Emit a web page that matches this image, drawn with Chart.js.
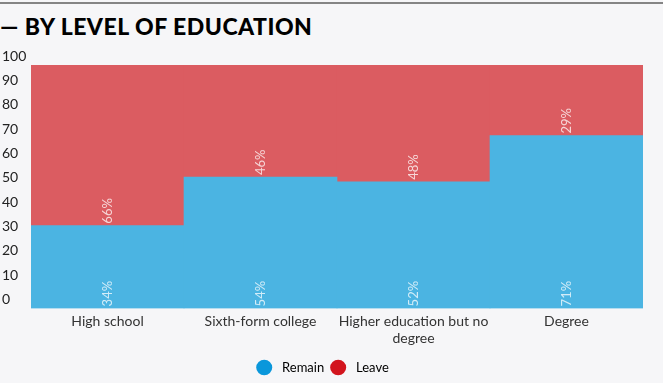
<!DOCTYPE html>
<html>
<head>
<meta charset="utf-8">
<script src="https://cdn.jsdelivr.net/npm/chart.js@4.4.1/dist/chart.umd.min.js"></script>
<style>
  html, body { margin: 0; padding: 0; background: #f6f6f8; width: 663px; height: 383px; overflow: hidden; }
  #rule { position: absolute; left: 0; top: 2px; width: 663px; height: 2px; background: #858585; }
  #title { position: absolute; left: 0; top: 13px; font-family: Lato, "Open Sans", sans-serif; font-weight: 900; font-size: 23px; letter-spacing: 0.5px; line-height: 26px; color: #000; white-space: nowrap; }
  #wrap { position: absolute; left: 0; top: 40px; width: 663px; height: 343px; }
</style>
</head>
<body>
<div id="rule"></div>
<div id="title">— BY LEVEL OF EDUCATION</div>
<div id="wrap"><canvas id="c" width="663" height="343"></canvas></div>
<script>
const categories = ["High school", "Sixth-form college", ["Higher education but no", "degree"], "Degree"];
const remainValues = [34, 54, 52, 71];
const leaveValues = [66, 46, 48, 29];
const remainLabels = ["34%", "54%", "52%", "71%"];
const leaveLabels = ["66%", "46%", "48%", "29%"];
const seriesNames = ["Remain", "Leave"];

const barColors = ["#4bb4e2", "#db5c61"];
const legendColors = ["#0a97db", "#d2141d"];
const FONT = "Lato, 'Open Sans', sans-serif";

const valueLabels = {
  id: "valueLabels",
  afterDatasetsDraw(chart) {
    const ctx = chart.ctx;
    const sets = [remainLabels, leaveLabels];
    ctx.save();
    ctx.font = "13px " + FONT;
    ctx.textAlign = "left";
    ctx.textBaseline = "middle";
    chart.data.datasets.forEach((ds, di) => {
      const meta = chart.getDatasetMeta(di);
      ctx.fillStyle = "rgba(255,255,255,0.75)";
      meta.data.forEach((bar, i) => {
        const p = bar.getProps(["x", "base"], true);
        ctx.save();
        ctx.translate(p.x, p.base - 2);
        ctx.rotate(-Math.PI / 2);
        ctx.fillText(sets[di][i], 0, 0);
        ctx.restore();
      });
    });
    ctx.restore();
  }
};

new Chart(document.getElementById("c"), {
  type: "bar",
  data: {
    labels: categories,
    datasets: [
      { label: seriesNames[0], data: remainValues, backgroundColor: barColors[0], borderWidth: 0 },
      { label: seriesNames[1], data: leaveValues, backgroundColor: barColors[1], borderWidth: 0 }
    ]
  },
  options: {
    responsive: false,
    animation: false,
    barPercentage: 1,
    categoryPercentage: 1,
    layout: { padding: { left: 2, right: 20, top: 25, bottom: -1 } },
    plugins: {
      tooltip: { enabled: false },
      legend: {
        position: "bottom",
        labels: {
          usePointStyle: true,
          pointStyle: "circle",
          boxHeight: 11,
          pointStyleWidth: 16,
          padding: 6,
          color: "#666",
          font: { family: FONT, size: 13 },
          generateLabels(chart) {
            return chart.data.datasets.map((ds, i) => ({
              text: " " + ds.label,
              fillStyle: legendColors[i],
              strokeStyle: legendColors[i],
              lineWidth: 0,
              pointStyle: "circle",
              datasetIndex: i,
              hidden: false
            }));
          }
        }
      }
    },
    scales: {
      x: {
        stacked: true,
        grid: { display: false, drawTicks: false },
        border: { display: false },
        ticks: { color: "#333", font: { family: FONT, size: 14 }, padding: 5, maxRotation: 0, autoSkip: false },
        afterFit(s) { s.height += 3; }
      },
      y: {
        stacked: true,
        min: 0,
        max: 100,
        grid: { display: false, drawTicks: false },
        border: { display: false },
        ticks: { stepSize: 10, color: "#222", font: { family: FONT, size: 14 }, crossAlign: "far", labelOffset: -9, padding: 0 },
        afterFit(s) { s.width = 29; }
      }
    }
  },
  plugins: [valueLabels]
});
</script>
</body>
</html>
